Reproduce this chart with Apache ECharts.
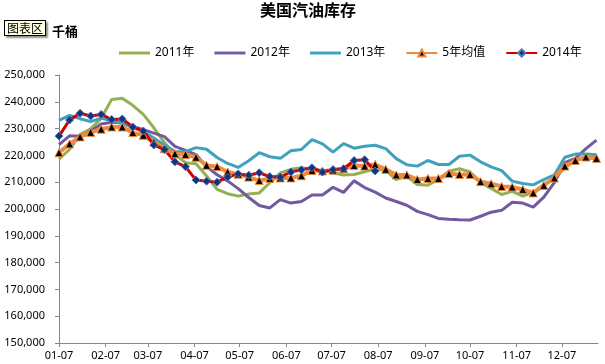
<!DOCTYPE html>
<html>
<head>
<meta charset="utf-8">
<script src="https://cdn.jsdelivr.net/npm/echarts@6/dist/echarts.min.js"></script>
<style>
html,body{margin:0;padding:0;background:#fff;}
#c{width:605px;height:364px;}
</style>
</head>
<body>
<div id="c"></div>
<script>
// ---- data ----
var seriesNames = ['2011年', '2012年', '2013年', '5年均值', '2014年'];
var tickLabels = ['01-07','02-07','03-07','04-07','05-07','06-07','07-07','08-07','09-07','10-07','11-07','12-07'];
var yTicks = [150000, 250000, 10000]; // min, max, step

var y2011 = [218600,222200,227800,229900,233800,240900,241300,238700,235300,230300,224800,220300,217300,216900,212300,207300,205700,204800,205600,206000,209800,213500,214800,215400,214800,214400,213500,212700,212900,213900,215000,214400,211000,212300,209100,208900,211000,214100,215000,213800,210000,207700,205400,206600,204800,206200,209200,211300,215300,218400,218800,218900];
var y2012 = [224000,227300,227100,229000,231700,232400,232100,230800,229600,228300,227000,223400,221900,220300,215800,212800,210500,207600,204300,201300,200400,203500,202200,202800,205200,205200,208100,206200,210500,208000,206300,204100,202800,201400,199100,197900,196500,196200,196000,195900,197300,198800,199500,202500,202200,200700,204400,209800,217300,218900,222500,225700];
var y2013 = [233100,234900,233700,232600,233900,232900,232000,230500,229000,226500,223800,221500,221400,222900,222300,219200,217000,215500,218000,221000,219500,218900,221700,222200,225900,224300,221200,224400,222700,223400,223800,222500,218800,216500,216000,218100,216600,216600,219700,220100,217600,215700,214300,210400,209500,209000,211000,212700,219300,220500,220500,220200];
var yAvg5 = [221000,224300,226900,228600,229800,230600,230600,228500,227500,225000,222500,220600,220300,219300,216300,215800,213800,213000,211900,210600,211400,211600,211600,212400,214400,214200,214500,215000,216200,216000,216600,214800,212700,212700,211000,211400,211400,213200,212900,212900,210200,209400,208400,208200,207300,206000,208800,211600,216000,218100,219400,218900];
var y2014 = [227200,233200,235700,234700,235300,233400,233600,230600,229100,223900,222200,217600,215800,210800,210400,210000,211900,213100,212600,213500,212100,211900,213800,214600,215400,213800,214700,215000,218100,218400,214200];

// ---- axis categories: daily dates 01-07 .. 12-31, weekly points every 7 days ----
function pad(n){return (n<10?'0':'')+n;}
var days = [];
var start = new Date(2014, 0, 7);
var end = new Date(2014, 11, 31);
for (var d = new Date(start); d <= end; d.setDate(d.getDate()+1)) {
  days.push(pad(d.getMonth()+1) + '-' + pad(d.getDate()));
}
function weekly(vals){
  return vals.map(function(v, i){ return [days[i*7], v]; });
}
function isTick(idx, val){ return tickLabels.indexOf(val) >= 0; }

var FONT = '"Noto Sans", "Noto Sans CJK SC", sans-serif';
var C = ['#93B052', '#7259A0', '#3FA1BD', '#F08A3C', '#D00000'];
var lineIcon = 'path://M0,0L32,0L32,3L0,3Z';

var chart = echarts.init(document.getElementById('c'), null, {renderer:'canvas'});
chart.setOption({
  animation: false,
  backgroundColor: '#ffffff',
  grid: {left: 59, right: 7, top: 75, bottom: 21, containLabel: false},
  legend: {
    left: 114, top: 42,
    itemWidth: 31, itemHeight: 9, itemGap: 20,
    textStyle: {fontSize: 12, color: '#000', fontFamily: FONT},
    data: [
      {name: seriesNames[0], icon: lineIcon},
      {name: seriesNames[1], icon: lineIcon},
      {name: seriesNames[2], icon: lineIcon},
      {name: seriesNames[3]},
      {name: seriesNames[4]}
    ]
  },
  graphic: [
    {type:'text', x: 308, y: 10, style:{text:'美国汽油库存', font:'bold 16px "Noto Sans CJK SC"', fill:'#000', textAlign:'center', textVerticalAlign:'middle'}},
    {type:'text', x: 52, y: 31, style:{text:'千桶', font:'bold 13px "Noto Sans CJK SC"', fill:'#000', textVerticalAlign:'middle'}},
    {type:'text', x: 5, y: 21, style:{text:'图表区', font:'12px "Noto Sans CJK SC"', fill:'#000',
      backgroundColor:'#FFFFE1', borderColor:'#000', borderWidth:1, padding:[1,2,1,2],
      shadowColor:'rgba(0,0,0,0.35)', shadowOffsetX:2, shadowOffsetY:2, shadowBlur:2}}
  ],
  xAxis: {
    type: 'category', data: days, boundaryGap: false,
    axisLine: {lineStyle: {color: '#868686', width: 1}},
    axisTick: {interval: isTick, length: 4, lineStyle: {color: '#868686'}},
    axisLabel: {interval: isTick, fontSize: 11, color: '#000', fontFamily: FONT, margin: 7},
    splitLine: {show: false}
  },
  yAxis: {
    type: 'value', min: yTicks[0], max: yTicks[1], interval: yTicks[2],
    axisLine: {show: true, lineStyle: {color: '#868686', width: 1}},
    axisTick: {show: true, length: 4, lineStyle: {color: '#868686'}},
    axisLabel: {fontSize: 11, color: '#000', fontFamily: FONT, margin: 14,
      formatter: function(v){ return v.toLocaleString('en-US'); }},
    splitLine: {show: false}
  },
  series: [
    {name: seriesNames[0], type:'line', data: weekly(y2011), symbol:'none', lineStyle:{color:C[0], width:3}, itemStyle:{color:C[0]}},
    {name: seriesNames[1], type:'line', data: weekly(y2012), symbol:'none', lineStyle:{color:C[1], width:3}, itemStyle:{color:C[1]}},
    {name: seriesNames[2], type:'line', data: weekly(y2013), symbol:'none', lineStyle:{color:C[2], width:3}, itemStyle:{color:C[2]}},
    {name: seriesNames[3], type:'line', data: weekly(yAvg5), symbol:'triangle', symbolSize:8, showAllSymbol:true,
      lineStyle:{color:C[3], width:4}, itemStyle:{color:'#000', borderColor:C[3], borderWidth:1}},
    {name: seriesNames[4], type:'line', data: weekly(y2014), symbol:'diamond', symbolSize:8, showAllSymbol:true,
      lineStyle:{color:C[4], width:3}, itemStyle:{color:'#14337A', borderColor:'#4A78C0', borderWidth:1}}
  ]
});
</script>
</body>
</html>
